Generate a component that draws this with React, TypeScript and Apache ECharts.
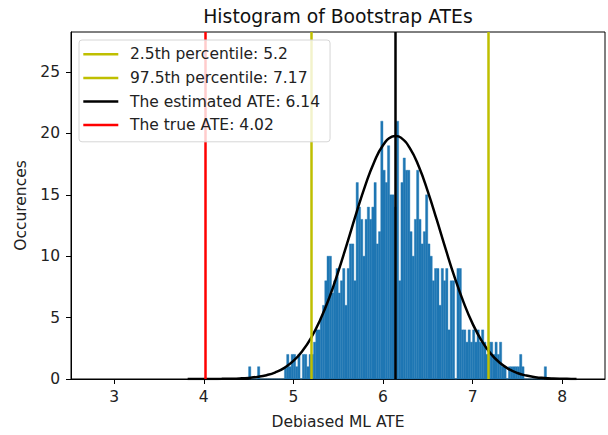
import React, { useEffect, useRef } from "react";
import * as echarts from "echarts";

// Histogram bins: start, width, and counts per bin
const BIN_START = 4.5;
const BIN_WIDTH = 0.025;
const COUNTS = [
  1, 0, 0, 0, 1, 0, 0, 0, 0, 0, 0, 0, 0, 0, 0, 0,
  1, 2, 1, 2, 2, 1, 2, 0, 2, 2, 1, 2, 2,
  3, 4, 4, 5, 6, 8, 10, 10, 7, 8, 9, 7, 8, 9, 6, 9, 11, 11, 8,
  16, 14, 13, 10, 13, 14, 13, 14, 16, 11, 12, 21, 17, 16, 19, 15, 15, 14, 21,
  8, 16, 18, 17, 17, 12, 10, 13, 17, 13, 11, 12, 15, 11, 10, 8, 9, 9, 6, 9, 8, 9, 4, 8, 8,
  0, 9, 9, 4, 4, 3, 4, 3, 4, 3, 4, 3, 4, 3, 2, 3, 3, 2, 3, 2, 3,
  1, 1, 0, 1, 1, 1, 1, 1, 2, 1,
  0, 0, 0, 0, 0, 0, 0, 0, 0, 1,
];

// Fitted normal curve
const CURVE_X = [
  3.82, 3.9, 4.0, 4.1, 4.2, 4.3, 4.4, 4.5, 4.6, 4.7, 4.8, 4.9, 5.0, 5.1, 5.2, 5.3,
  5.4, 5.5, 5.6, 5.7, 5.8, 5.9, 6.0, 6.1, 6.14, 6.2, 6.3, 6.4, 6.5, 6.6, 6.7, 6.8,
  6.9, 7.0, 7.1, 7.2, 7.3, 7.4, 7.5, 7.6, 7.7, 7.8, 7.9, 8.0, 8.1, 8.16,
];
const CURVE_Y = [
  0.0, 0.001, 0.002, 0.005, 0.011, 0.023, 0.046, 0.091, 0.173, 0.312, 0.546, 0.91, 1.47, 2.28, 3.38, 4.83,
  6.61, 8.73, 11.05, 13.44, 15.71, 17.64, 19.04, 19.74, 19.8, 19.66, 18.81, 17.3, 15.28, 12.97, 10.57, 8.28,
  6.24, 4.51, 3.13, 2.09, 1.34, 0.83, 0.49, 0.28, 0.15, 0.08, 0.04, 0.02, 0.01, 0.0,
];

// Reference vertical lines
const REF_NAMES = [
  "2.5th percentile: 5.2",
  "97.5th percentile: 7.17",
  "The estimated ATE: 6.14",
  "The true ATE: 4.02",
];
const REF_VALUES = [5.2, 7.17, 6.14, 4.02];
const REF_COLORS = ["#bfbf00", "#bfbf00", "#000000", "#ff0000"];

const X_TICKS = [3, 4, 5, 6, 7, 8];
const Y_TICKS = [0, 5, 10, 15, 20, 25];
const X_RANGE = [2.518, 8.478];
const Y_RANGE = [0, 28.26];

const TITLE = "Histogram of Bootstrap ATEs";
const X_LABEL = "Debiased ML ATE";
const Y_LABEL = "Occurences";

const FONT = "DejaVu Sans";
const BASE = 15.5;
const TITLE_SIZE = 18.8;

export default function App() {
  const ref = useRef<HTMLDivElement>(null);

  useEffect(() => {
    document.body.style.margin = "0";
    const chart = echarts.init(ref.current!, null, { renderer: "svg" });

    const bins = COUNTS.map((c, i) => [
      BIN_START + i * BIN_WIDTH,
      BIN_START + (i + 1) * BIN_WIDTH,
      c,
    ]);
    const curve = CURVE_X.map((x, i) => [x, CURVE_Y[i]]);

    const axisCommon = {
      axisLine: { show: true, onZero: false, lineStyle: { color: "#000", width: 1 } },
      axisTick: { show: true, length: 5, lineStyle: { color: "#000", width: 1 } },
      splitLine: { show: false },
    };

    const option: any = {
      animation: false,
      grid: {
        left: 71,
        right: 3,
        top: 32,
        bottom: 54,
        show: true,
        borderColor: "#000",
        borderWidth: 1,
        backgroundColor: "transparent",
      },
      title: {
        text: TITLE,
        left: 338,
        top: 7,
        padding: 0,
        textAlign: "center",
        textStyle: {
          fontFamily: FONT,
          fontSize: TITLE_SIZE,
          fontWeight: "normal",
          color: "#111",
        },
      },
      legend: {
        orient: "vertical",
        left: 79,
        top: 40,
        z: 10,
        data: REF_NAMES.map((n) => ({ name: n, icon: "rect" })),
        itemWidth: 35,
        itemHeight: 2.5,
        itemGap: 7.6,
        padding: [6.3, 10, 8.7, 4.3],
        backgroundColor: "rgba(255,255,255,0.8)",
        borderColor: "#d6d6d6",
        borderWidth: 1,
        borderRadius: 3,
        selectedMode: false,
        textStyle: {
          fontFamily: FONT,
          fontSize: BASE,
          lineHeight: 16,
          color: "#222",
          padding: [0, 0, 0, 6.7],
        },
      },
      xAxis: {
        type: "value",
        min: X_RANGE[0],
        max: X_RANGE[1],
        name: X_LABEL,
        nameLocation: "middle",
        nameGap: 35,
        nameTextStyle: { fontFamily: FONT, fontSize: BASE, color: "#222" },
        ...axisCommon,
        axisTick: { ...axisCommon.axisTick, customValues: X_TICKS },
        axisLabel: {
          customValues: X_TICKS,
          fontFamily: FONT,
          fontSize: BASE,
          color: "#222",
          margin: 9.5,
        },
      },
      yAxis: {
        type: "value",
        min: Y_RANGE[0],
        max: Y_RANGE[1],
        name: Y_LABEL,
        nameLocation: "middle",
        nameGap: 36,
        nameTextStyle: { fontFamily: FONT, fontSize: BASE, color: "#222" },
        ...axisCommon,
        axisTick: { ...axisCommon.axisTick, customValues: Y_TICKS },
        axisLabel: {
          customValues: Y_TICKS,
          fontFamily: FONT,
          fontSize: BASE,
          color: "#222",
          margin: 11,
        },
      },
      series: [
        {
          type: "custom",
          name: "hist",
          data: bins,
          encode: { x: [0, 1], y: 2 },
          z: 2,
          silent: true,
          renderItem: (params: any, api: any) => {
            const p0 = api.coord([api.value(0), api.value(2)]);
            const p1 = api.coord([api.value(1), 0]);
            return {
              type: "rect",
              shape: { x: p0[0], y: p0[1], width: p1[0] - p0[0], height: p1[1] - p0[1] },
              style: { fill: "#1f77b4", stroke: "#1f77b4", lineWidth: 0.4 },
            };
          },
        },
        ...REF_NAMES.map((name, i) => ({
          type: "line",
          name,
          data: [],
          color: REF_COLORS[i],
          symbol: "none",
          z: 3,
          markLine: {
            silent: true,
            symbol: "none",
            label: { show: false },
            lineStyle: { color: REF_COLORS[i], width: 2.5, type: "solid" },
            data: [{ xAxis: REF_VALUES[i] }],
          },
        })),
        {
          type: "line",
          name: "curve",
          data: curve,
          smooth: true,
          symbol: "none",
          silent: true,
          z: 4,
          lineStyle: { color: "#000", width: 2.5 },
        },
      ],
    };

    chart.setOption(option);
    return () => chart.dispose();
  }, []);

  return <div ref={ref} style={{ width: 608, height: 435 }} />;
}
